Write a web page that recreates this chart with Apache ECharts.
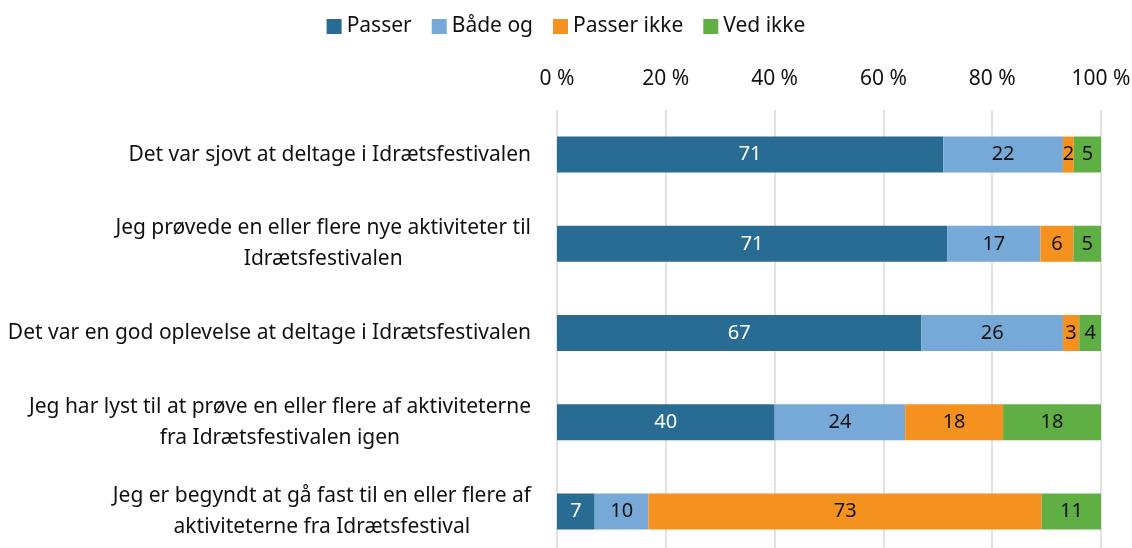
<!DOCTYPE html>
<html>
<head>
<meta charset="utf-8">
<script src="https://cdn.jsdelivr.net/npm/echarts@6/dist/echarts.min.js"></script>
<style>
  html, body { margin: 0; padding: 0; background: #fff; }
  #chart { width: 1132px; height: 548px; }
</style>
</head>
<body>
<div id="chart"></div>
<script>
  // udsagn, oppefra og ned
  var categories = [
    'Det var sjovt at deltage i Idrætsfestivalen',
    'Jeg prøvede en eller flere nye aktiviteter til\nIdrætsfestivalen',
    'Det var en god oplevelse at deltage i Idrætsfestivalen',
    'Jeg har lyst til at prøve en eller flere af aktiviteterne\nfra Idrætsfestivalen igen',
    'Jeg er begyndt at gå fast til en eller flere af\naktiviteterne fra Idrætsfestival'
  ];
  var seriesNames = ['Passer', 'Både og', 'Passer ikke', 'Ved ikke'];
  var passer = [71, 71, 67, 40, 7];
  var baadeOg = [22, 17, 26, 24, 10];
  var passerIkke = [2, 6, 3, 18, 73];
  var vedIkke = [5, 5, 4, 18, 11];
  var xTicks = [0, 20, 40, 60, 80, 100];

  var colors = ['#286B93', '#76A9D7', '#F5921F', '#5FAF44'];
  var labelColors = ['#ffffff', '#111111', '#111111', '#111111'];
  var font = 'Noto Sans';
  var fs = 21;

  var allValues = [passer, baadeOg, passerIkke, vedIkke];
  // 100 % stablet: hver række skaleres til summen
  var rowSums = categories.map(function (c, i) {
    return allValues.reduce(function (s, arr) { return s + arr[i]; }, 0);
  });

  var series = allValues.map(function (arr, k) {
    return {
      name: seriesNames[k],
      type: 'bar',
      stack: 'total',
      barWidth: 36,
      itemStyle: { color: colors[k] },
      label: {
        show: true,
        position: 'inside',
        color: labelColors[k],
        fontFamily: font,
        fontSize: 20,
        formatter: function (p) { return arr[p.dataIndex]; }
      },
      data: arr.map(function (v, i) { return v / rowSums[i] * 100; })
    };
  });

  var myChart = echarts.init(document.getElementById('chart'));
  var option = {
    animation: false,
    textStyle: { fontFamily: font },
    legend: {
      top: 11,
      left: 'center',
      itemWidth: 15,
      itemHeight: 15,
      itemGap: 20,
      icon: 'rect',
      textStyle: { fontFamily: font, fontSize: fs, color: '#111111' },
      data: seriesNames
    },
    grid: { left: 557, right: 31, top: 110, bottom: -8, outerBoundsMode: 'none', containLabel: false },
    xAxis: {
      type: 'value',
      position: 'top',
      min: 0,
      max: 100,
      interval: 20,
      axisLine: { show: false },
      axisTick: { show: false },
      splitLine: { lineStyle: { color: '#d9d9d9', width: 1.5 } },
      axisLabel: {
        margin: 20,
        fontFamily: font,
        fontSize: fs,
        color: '#111111',
        formatter: function (v) { return xTicks.indexOf(v) >= 0 ? v + ' %' : ''; }
      }
    },
    yAxis: {
      type: 'category',
      inverse: true,
      data: categories,
      axisLine: { show: false },
      axisTick: { show: false },
      axisLabel: {
        margin: 26,
        align: 'right',
        lineHeight: 31,
        fontFamily: font,
        fontSize: fs,
        color: '#111111',
        formatter: function (v) {
          return v.split('\n').map(function (l) { return '{c|' + l + '}'; }).join('\n');
        },
        rich: {
          c: { align: 'center', fontFamily: font, fontSize: fs, lineHeight: 31, color: '#111111' }
        }
      }
    },
    series: series
  };
  myChart.setOption(option);
</script>
</body>
</html>
